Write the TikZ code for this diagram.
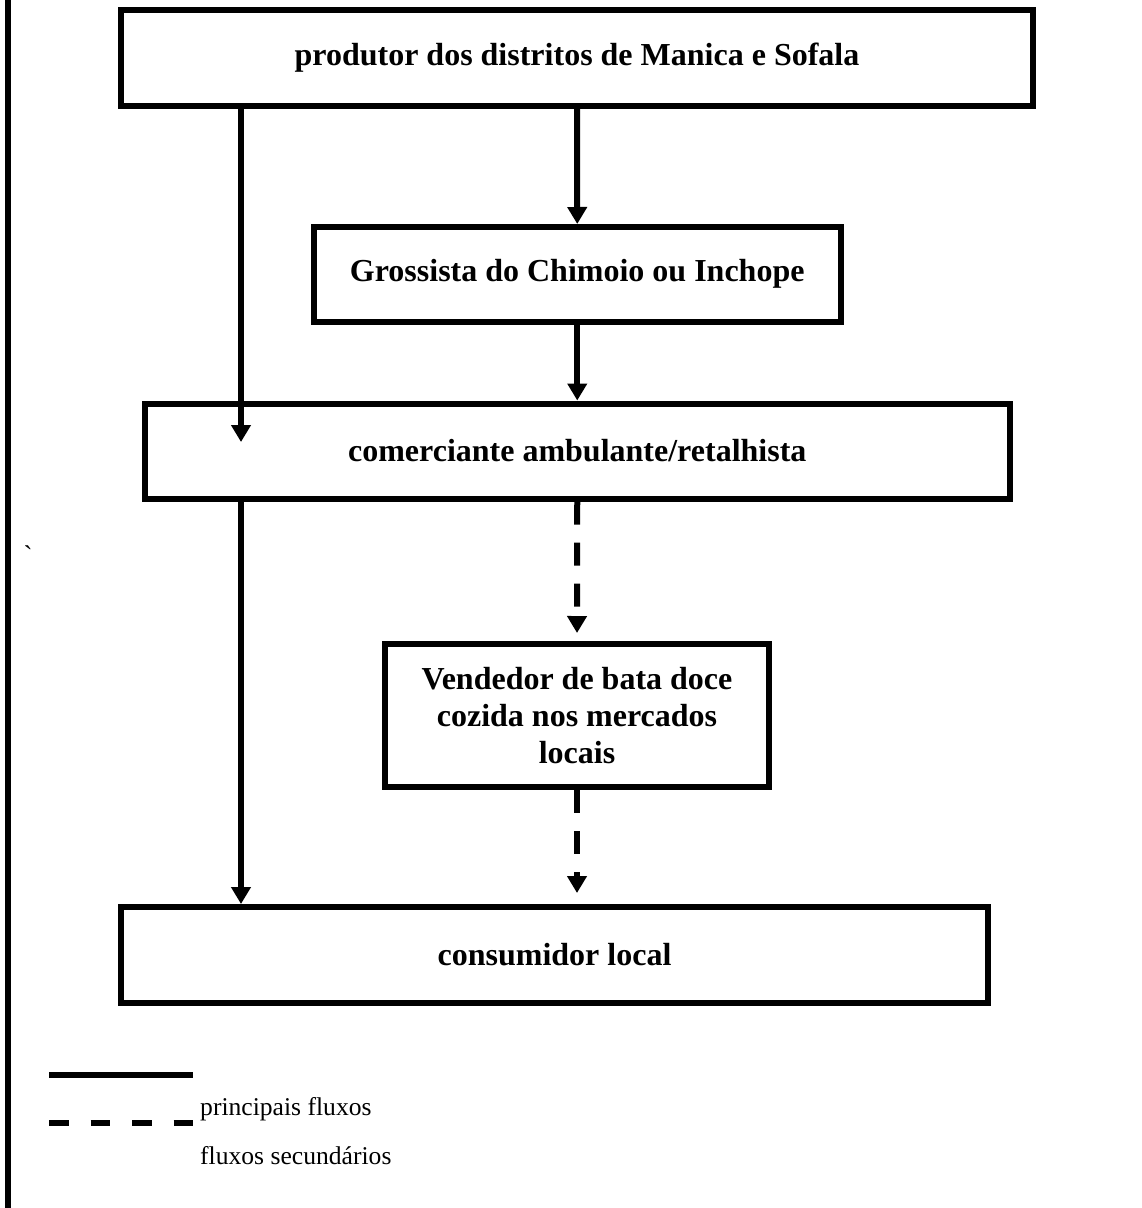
\documentclass[tikz,border=0pt]{standalone}
\usepackage{fontspec}
\setmainfont{Liberation Serif}
\usetikzlibrary{arrows.meta}
\begin{document}
\begin{tikzpicture}[x=1pt,y=-1pt,
  box/.style={draw,line width=6pt,inner sep=0pt,align=center,
    font=\fontsize{32}{37}\selectfont\bfseries},
  flow/.style={line width=6pt,-{Triangle[width=19pt,length=17pt]}},
  minorflow/.style={flow,dash pattern=on 23pt off 18pt},
  legtext/.style={anchor=base west,inner sep=0pt,
    font=\fontsize{25.6}{30}\selectfont},
  legline/.style={line width=6pt}]
\useasboundingbox (0,0) rectangle (1142,1208);

% page rule on the left
\draw[line width=6pt] (8,0) -- (8,1208);

% stages of the chain
\node[box,minimum width=912pt,minimum height=96pt] (prod) at (577,58)
  {produtor dos distritos de Manica e Sofala};
\node[box,minimum width=527.5pt,minimum height=94.5pt] (gros) at (577.25,274.25)
  {Grossista do Chimoio ou Inchope};
\node[box,minimum width=864.5pt,minimum height=95pt] (com) at (577.25,451)
  {comerciante ambulante/retalhista};
\node[box,minimum width=384pt,minimum height=143pt] (vend) at (577,715.5)
  {Vendedor de bata doce\\cozida nos mercados\\locais};
\node[box,minimum width=867pt,minimum height=96pt] (cons) at (554.5,955)
  {consumidor local};

\node[inner sep=0pt,font=\fontsize{27}{30}\selectfont] (tick) at (28,555) {\textasciigrave};

% flows
\coordinate (lx) at (241,0);
\coordinate (lend) at (241,442);
\draw[flow] (prod.south) -- (gros.north);
\draw[flow] (gros.south) -- (com.north);
\draw[flow] (prod.south -| lx) -- (lend);
\draw[flow] (com.south -| lx) -- (cons.north -| lx);
\draw[minorflow,shorten >=8pt] (com.south) -- (vend.north);
\draw[minorflow,shorten >=11pt] (vend.south) -- (vend.south |- cons.north);

% legend
\coordinate (s1) at (49,1075);
\coordinate (s2) at (193,1075);
\coordinate (d1) at (49,1123);
\coordinate (d2) at (193,1123);
\draw[legline] (s1) -- (s2);
\draw[legline,dash pattern=on 19.5pt off 22pt] (d1) -- (d2);
\node[legtext] (lp) at (200,1115) {principais fluxos};
\node[legtext] (ls) at (200,1164) {fluxos secundários};
\end{tikzpicture}
\end{document}
